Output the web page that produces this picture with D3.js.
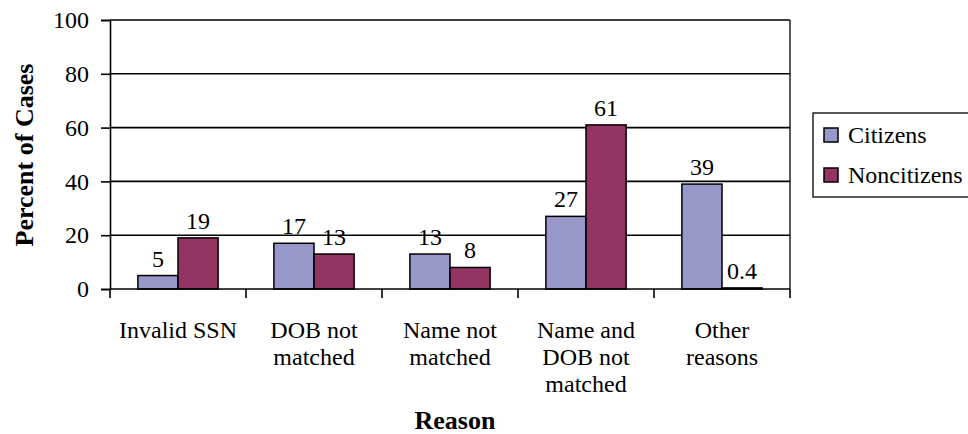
<!DOCTYPE html>
<html><head><meta charset="utf-8">
<script src="https://cdn.jsdelivr.net/npm/d3@7"></script>
<style>
html,body{margin:0;padding:0;background:#fff;}
svg{display:block;}
svg text{font-family:'Liberation Serif','Tinos','Times New Roman','DejaVu Serif',serif;}
</style></head>
<body>
<svg id="chart" width="968" height="434"></svg>
<script>
const categories = [["Invalid SSN"],["DOB not","matched"],["Name not","matched"],["Name and","DOB not","matched"],["Other","reasons"]];
const seriesNames = ["Citizens","Noncitizens"];
const citizens = [5,17,13,27,39];
const noncitizens = [19,13,8,61,0.4];
const valueLabels = [["5","17","13","27","39"],["19","13","8","61","0.4"]];
const yTicks = [0,20,40,60,80,100];
const colors = ["#9797ca","#943463"];

const FF = "'Liberation Serif','Tinos','Times New Roman','DejaVu Serif',serif";
const svg = d3.select("#chart");
const L = 110, R = 790, T = 20, B = 289;
const catIds = categories.map((c,i)=>i);
const x0 = d3.scaleBand().domain(catIds).range([L,R]).padding(0);
const bw = x0.bandwidth();
const x1 = d3.scaleBand().domain(seriesNames).range([bw*0.205, bw*0.795]).padding(0);
const y = d3.scaleLinear().domain([0,100]).range([B,T]);
const fs = 24, tfs = 26;

// gridlines
svg.append("g").selectAll("line").data(yTicks.filter(t=>t>0)).join("line")
  .attr("x1",L).attr("x2",R).attr("y1",d=>y(d)).attr("y2",d=>y(d))
  .attr("stroke","#000").attr("stroke-width",1.6);
// right border
svg.append("line").attr("x1",R).attr("x2",R).attr("y1",T).attr("y2",B).attr("stroke","#000").attr("stroke-width",1.3);

// y axis
const yAxis = d3.axisLeft(y).tickValues(yTicks).tickSize(9).tickPadding(12);
const yg = svg.append("g").attr("transform",`translate(${L},0)`).call(yAxis).attr("font-family",FF);
yg.select(".domain").attr("stroke","#000").attr("stroke-width",1.6);
yg.selectAll(".tick line").attr("stroke","#000").attr("stroke-width",1.6);
yg.selectAll(".tick text").attr("font-size",fs).attr("font-family",FF).attr("fill","#000");

// bars
const data = [citizens, noncitizens];
const groups = svg.append("g").selectAll("g").data(catIds).join("g")
  .attr("transform",d=>`translate(${x0(d)},0)`);
groups.selectAll("rect").data(i=>seriesNames.map((s,k)=>({s,k,v:data[k][i],lab:valueLabels[k][i]}))).join("rect")
  .attr("x",d=>x1(d.s)).attr("width",x1.bandwidth())
  .attr("y",d=>y(d.v)).attr("height",d=>y(0)-y(d.v))
  .attr("fill",d=>colors[d.k]).attr("stroke","#000").attr("stroke-width",1.5);
groups.selectAll("text").data(i=>seriesNames.map((s,k)=>({s,k,v:data[k][i],lab:valueLabels[k][i]}))).join("text")
  .attr("x",d=>x1(d.s)+x1.bandwidth()/2).attr("y",d=>y(d.v)-9)
  .attr("text-anchor","middle").attr("font-size",fs).attr("font-family",FF).attr("fill","#000").text(d=>d.lab);

// x axis
const xg = svg.append("g").attr("transform",`translate(0,${B})`);
xg.append("line").attr("x1",L).attr("x2",R).attr("stroke","#000").attr("stroke-width",1.6);
const bounds = catIds.map(i=>x0(i)).concat([R]);
xg.selectAll("line.tk").data(bounds).join("line").attr("class","tk")
  .attr("x1",d=>d).attr("x2",d=>d).attr("y1",0).attr("y2",9).attr("stroke","#000").attr("stroke-width",1.6);
xg.selectAll("text.cat").data(catIds).join("text").attr("class","cat")
  .attr("text-anchor","middle").attr("font-size",fs).attr("font-family",FF).attr("fill","#000")
  .each(function(i){
    const t = d3.select(this);
    categories[i].forEach((ln,j)=>{
      t.append("tspan").attr("x",x0(i)+bw/2).attr("y",49+j*27).text(ln);
    });
  });

// axis titles
svg.append("text").attr("x",455).attr("y",429).attr("text-anchor","middle").attr("font-family",FF)
  .attr("font-size",tfs).attr("font-weight","bold").text("Reason");
svg.append("text").attr("transform","translate(33,155) rotate(-90)").attr("text-anchor","middle").attr("font-family",FF)
  .attr("font-size",tfs).attr("font-weight","bold").text("Percent of Cases");

// legend
const lg = svg.append("g");
lg.append("rect").attr("x",813).attr("y",113).attr("width",180).attr("height",84)
  .attr("fill","#fff").attr("stroke","#000").attr("stroke-width",1.3);
seriesNames.forEach((s,k)=>{
  const by = 143 + k*40;
  lg.append("rect").attr("x",824).attr("y",by-15).attr("width",14).attr("height",14)
    .attr("fill",colors[k]).attr("stroke","#000").attr("stroke-width",1.5);
  lg.append("text").attr("x",848).attr("y",by).attr("font-size",fs).attr("font-family",FF).attr("fill","#000").text(s);
});
</script>
</body></html>
